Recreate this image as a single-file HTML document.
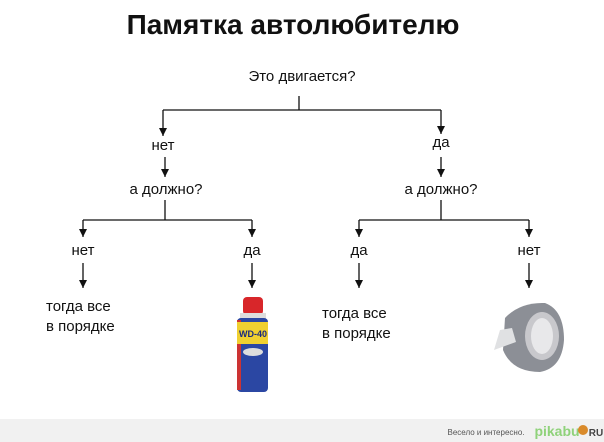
<!DOCTYPE html>
<html><head><meta charset="utf-8"><style>
body{margin:0;width:604px;height:442px;background:#fff;position:relative;overflow:hidden;font-family:"Liberation Sans",sans-serif;color:#111}
.t{position:absolute;transform:translateX(-50%);white-space:nowrap;font-size:14px}
.l{position:absolute;white-space:nowrap;font-size:15px;line-height:20px}
</style></head><body>
<div class="t" style="left:293px;top:9px;font-size:28px;font-weight:bold">Памятка автолюбителю</div>
<div class="t" style="left:302px;top:68px;font-size:15px">Это двигается?</div>
<div class="t" style="left:163px;top:137px;font-size:15px">нет</div>
<div class="t" style="left:441px;top:134px;font-size:15px">да</div>
<div class="t" style="left:166px;top:181px;font-size:15px">а должно?</div>
<div class="t" style="left:441px;top:181px;font-size:15px">а должно?</div>
<div class="t" style="left:83px;top:242px;font-size:15px">нет</div>
<div class="t" style="left:252px;top:242px;font-size:15px">да</div>
<div class="t" style="left:359px;top:242px;font-size:15px">да</div>
<div class="t" style="left:529px;top:242px;font-size:15px">нет</div>
<div class="l" style="left:46px;top:297px">тогда все<br>в порядке</div>
<div class="l" style="left:322px;top:304px">тогда все<br>в порядке</div>
<svg width="604" height="442" style="position:absolute;left:0;top:0">
<defs><marker id="a" markerWidth="8" markerHeight="8" refX="8" refY="4" orient="auto" markerUnits="userSpaceOnUse"><path d="M0,0 L8,4 L0,8z" fill="#111"/></marker></defs>
<g stroke="#111" stroke-width="1.3" fill="none">
<path d="M299,96V110M163,110H441"/>
<path d="M163,110V136" marker-end="url(#a)"/><path d="M441,110V134" marker-end="url(#a)"/>
<path d="M165,157V177" marker-end="url(#a)"/><path d="M441,157V177" marker-end="url(#a)"/>
<path d="M165,200V220M83,220H252M441,200V220M359,220H529"/>
<path d="M83,220V237" marker-end="url(#a)"/><path d="M252,220V237" marker-end="url(#a)"/>
<path d="M359,220V237" marker-end="url(#a)"/><path d="M529,220V237" marker-end="url(#a)"/>
<path d="M83,263V288" marker-end="url(#a)"/><path d="M252,263V288" marker-end="url(#a)"/>
<path d="M359,263V288" marker-end="url(#a)"/><path d="M529,263V288" marker-end="url(#a)"/>
</g>
<rect x="243" y="297" width="20" height="18" rx="4" fill="#d8262a"/>
<rect x="240" y="313" width="26" height="6" fill="#ddd"/>
<rect x="237" y="318" width="31" height="74" rx="4" fill="#2b47a3"/>
<rect x="237" y="320" width="4" height="70" fill="#c33"/>
<rect x="237" y="322" width="31" height="22" fill="#f0d030"/>
<text x="253" y="337" font-size="9" font-weight="bold" fill="#1a2a80" text-anchor="middle" font-family="Liberation Sans">WD-40</text>
<ellipse cx="253" cy="352" rx="10" ry="4" fill="#ddd"/>
<path d="M505,318 Q520,302 545,303 Q564,310 564,340 Q562,368 540,372 Q512,372 503,350z" fill="#8c8f96"/>
<ellipse cx="542" cy="336" rx="17" ry="24" fill="#c8c8cc"/>
<ellipse cx="542" cy="336" rx="11" ry="18" fill="#e8e8ea"/>
<path d="M494,350 L500,330 L512,328 L516,342 Z" fill="#e0e1e3"/>
<rect x="0" y="419" width="604" height="23" fill="#f1f1f1"/>
<text x="486" y="435" font-size="8" fill="#555" text-anchor="middle" font-family="Liberation Sans">Весело и интересно.</text>
<text x="557" y="436" font-size="14" font-weight="bold" fill="#8fd27a" text-anchor="middle" font-family="Liberation Sans">pikabu</text>
<circle cx="583" cy="430" r="5" fill="#d98a2a"/>
<text x="596" y="436" font-size="10" font-weight="bold" fill="#444" text-anchor="middle" font-family="Liberation Sans">RU</text>
</svg>
</body></html>
